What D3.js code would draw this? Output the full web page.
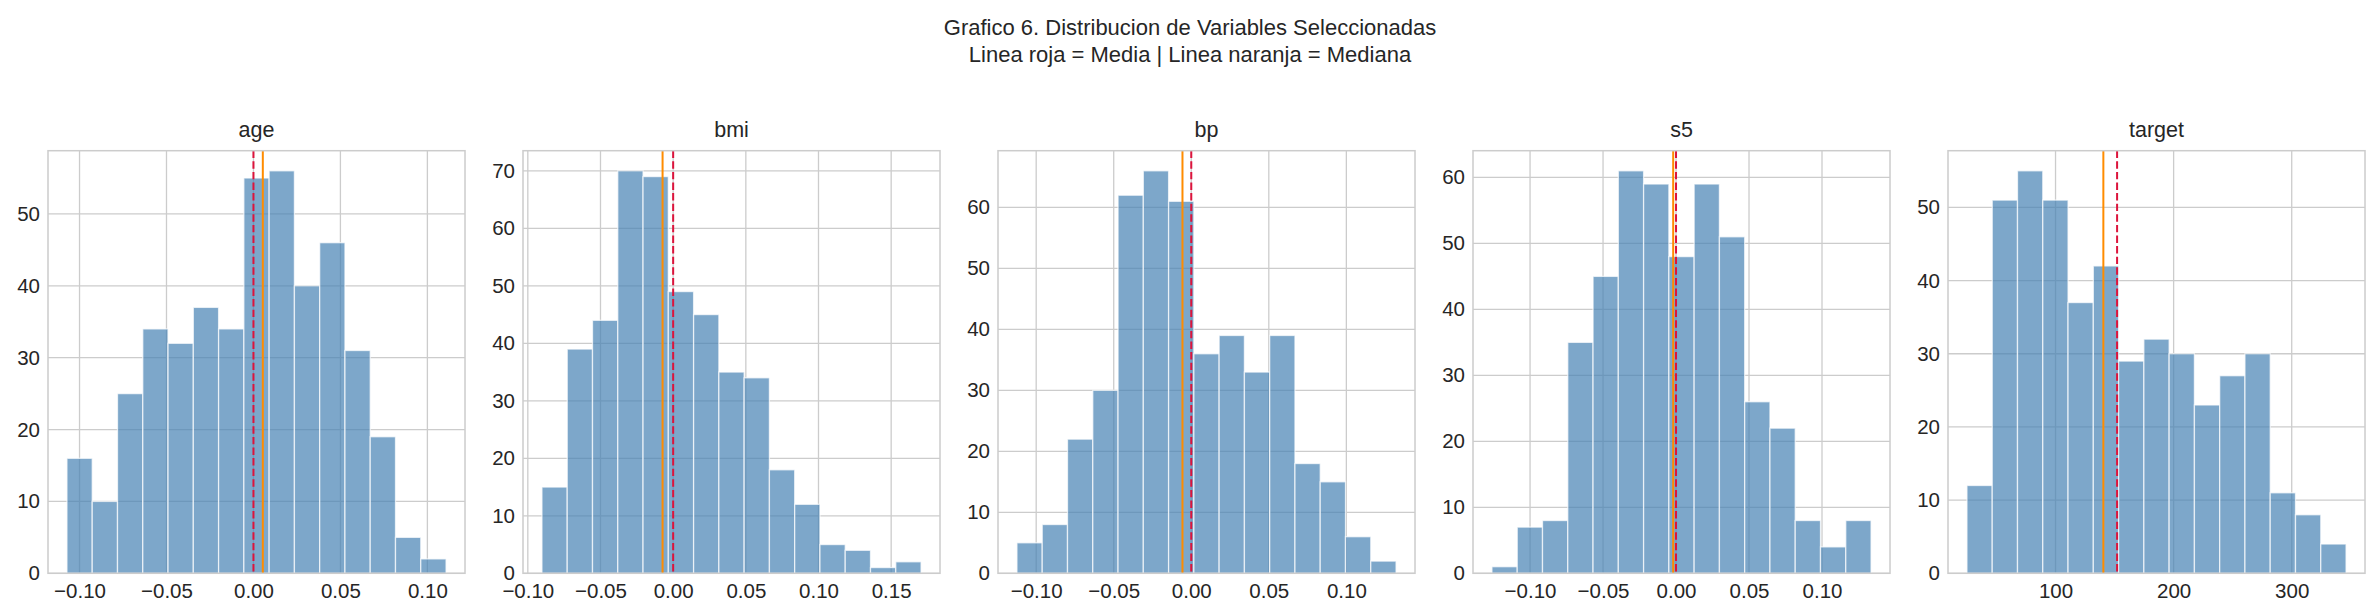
<!DOCTYPE html>
<html>
<head>
<meta charset="utf-8">
<script src="https://cdn.jsdelivr.net/npm/d3@7"></script>
<style>
  html, body { margin: 0; padding: 0; background: #ffffff; }
  svg { display: block; font-family: "Liberation Sans", Arial, sans-serif; }
</style>
</head>
<body>
<svg id="chart" width="2380" height="616"></svg>
<script>
// ---------- data ----------
const variables = ["age", "bmi", "bp", "s5", "target"];
const ageCounts    = [16, 10, 25, 34, 32, 37, 34, 55, 56, 40, 46, 31, 19, 5, 2];
const bmiCounts    = [15, 39, 44, 70, 69, 49, 45, 35, 34, 18, 12, 5, 4, 1, 2];
const bpCounts     = [5, 8, 22, 30, 62, 66, 61, 36, 39, 33, 39, 18, 15, 6, 2];
const s5Counts     = [1, 7, 8, 35, 45, 61, 59, 48, 59, 51, 26, 22, 8, 4, 8];
const targetCounts = [12, 51, 55, 51, 37, 42, 29, 32, 30, 23, 27, 30, 11, 8, 4];
const dataMin  = [-0.1072256, -0.0902753, -0.1123988, -0.1260971, 25];
const dataMax  = [0.1107267, 0.1705552, 0.1320442, 0.1335990, 346];
const means    = [0.0, 0.0, 0.0, 0.0, 152.13];
const medians  = [0.0053831, -0.0072838, -0.0056704, -0.0019470, 140.5];
const xTicksAge    = [-0.10, -0.05, 0.00, 0.05, 0.10];
const xTicksBmi    = [-0.10, -0.05, 0.00, 0.05, 0.10, 0.15];
const xTicksBp     = [-0.10, -0.05, 0.00, 0.05, 0.10];
const xTicksS5     = [-0.10, -0.05, 0.00, 0.05, 0.10];
const xTicksTarget = [100, 200, 300];
const yTicksAge    = [0, 10, 20, 30, 40, 50];
const yTicksBmi    = [0, 10, 20, 30, 40, 50, 60, 70];
const yTicksBp     = [0, 10, 20, 30, 40, 50, 60];
const yTicksS5     = [0, 10, 20, 30, 40, 50, 60];
const yTicksTarget = [0, 10, 20, 30, 40, 50];
const titleLines = ["Grafico 6. Distribucion de Variables Seleccionadas",
                    "Linea roja = Media | Linea naranja = Mediana"];

const countsList = [ageCounts, bmiCounts, bpCounts, s5Counts, targetCounts];
const xTicksList = [xTicksAge, xTicksBmi, xTicksBp, xTicksS5, xTicksTarget];
const yTicksList = [yTicksAge, yTicksBmi, yTicksBp, yTicksS5, yTicksTarget];
const xFormats = [d3.format(".2f"), d3.format(".2f"), d3.format(".2f"), d3.format(".2f"), d3.format("d")];

// ---------- layout ----------
const svg = d3.select("#chart");
const panelLeft = 48, panelStep = 475, panelW = 417;
const panelTop = 150.7, panelBottom = 573.3;
const textColor = "#262626", gridColor = "#cccccc";
const tickFont = 20.5, titleFont = 21.5, supFont = 22;

svg.append("g")
  .attr("font-size", supFont)
  .attr("fill", textColor)
  .attr("text-anchor", "middle")
  .selectAll("text").data(titleLines).join("text")
  .attr("x", 1190)
  .attr("y", (d, i) => 35 + i * 26.5)
  .text(d => d);

variables.forEach((name, i) => {
  const counts = countsList[i];
  const nb = counts.length;
  const lo = dataMin[i], hi = dataMax[i];
  const pad = (hi - lo) * 0.05;
  const bw = (hi - lo) / nb;
  const bins = counts.map((c, k) => ({ x0: lo + k * bw, x1: lo + (k + 1) * bw, c }));
  const yMax = d3.max(counts) * 1.05;

  const x0 = panelLeft + i * panelStep;
  const x = d3.scaleLinear().domain([lo - pad, hi + pad]).range([x0, x0 + panelW]);
  const y = d3.scaleLinear().domain([0, yMax]).range([panelBottom, panelTop]);

  const g = svg.append("g");

  // grid
  g.append("g").selectAll("line").data(xTicksList[i]).join("line")
    .attr("x1", d => x(d)).attr("x2", d => x(d))
    .attr("y1", panelTop).attr("y2", panelBottom)
    .attr("stroke", gridColor).attr("stroke-width", 1.3);
  g.append("g").selectAll("line").data(yTicksList[i]).join("line")
    .attr("x1", x0).attr("x2", x0 + panelW)
    .attr("y1", d => y(d)).attr("y2", d => y(d))
    .attr("stroke", gridColor).attr("stroke-width", 1.3);

  // bars
  g.append("g").selectAll("rect").data(bins).join("rect")
    .attr("x", d => x(d.x0)).attr("width", d => x(d.x1) - x(d.x0))
    .attr("y", d => y(d.c)).attr("height", d => y(0) - y(d.c))
    .attr("fill", "steelblue").attr("fill-opacity", 0.7)
    .attr("stroke", "white").attr("stroke-opacity", 0.7).attr("stroke-width", 1.3);

  // mean & median lines
  g.append("line")
    .attr("x1", x(means[i])).attr("x2", x(means[i]))
    .attr("y1", panelTop).attr("y2", panelBottom)
    .attr("stroke", "crimson").attr("stroke-width", 2)
    .attr("stroke-dasharray", "7.4,3.2");
  g.append("line")
    .attr("x1", x(medians[i])).attr("x2", x(medians[i]))
    .attr("y1", panelTop).attr("y2", panelBottom)
    .attr("stroke", "darkorange").attr("stroke-width", 2);

  // frame
  g.append("rect")
    .attr("x", x0).attr("y", panelTop)
    .attr("width", panelW).attr("height", panelBottom - panelTop)
    .attr("fill", "none").attr("stroke", gridColor).attr("stroke-width", 1.5);

  // axes
  const xAxis = d3.axisBottom(x).tickValues(xTicksList[i]).tickFormat(xFormats[i])
    .tickSize(0).tickPadding(10);
  const xa = g.append("g").attr("transform", `translate(0,${panelBottom})`).call(xAxis);
  const yAxis = d3.axisLeft(y).tickValues(yTicksList[i]).tickFormat(d3.format("d"))
    .tickSize(0).tickPadding(8);
  const ya = g.append("g").attr("transform", `translate(${x0},0)`).call(yAxis);
  [xa, ya].forEach(a => {
    a.select(".domain").remove();
    a.selectAll("text").attr("font-size", tickFont).attr("fill", textColor)
      .attr("font-family", "Liberation Sans, Arial, sans-serif");
  });

  // panel title
  g.append("text")
    .attr("x", x0 + panelW / 2).attr("y", panelTop - 13.5)
    .attr("text-anchor", "middle")
    .attr("font-size", titleFont).attr("fill", textColor)
    .text(name);
});
</script>
</body>
</html>
